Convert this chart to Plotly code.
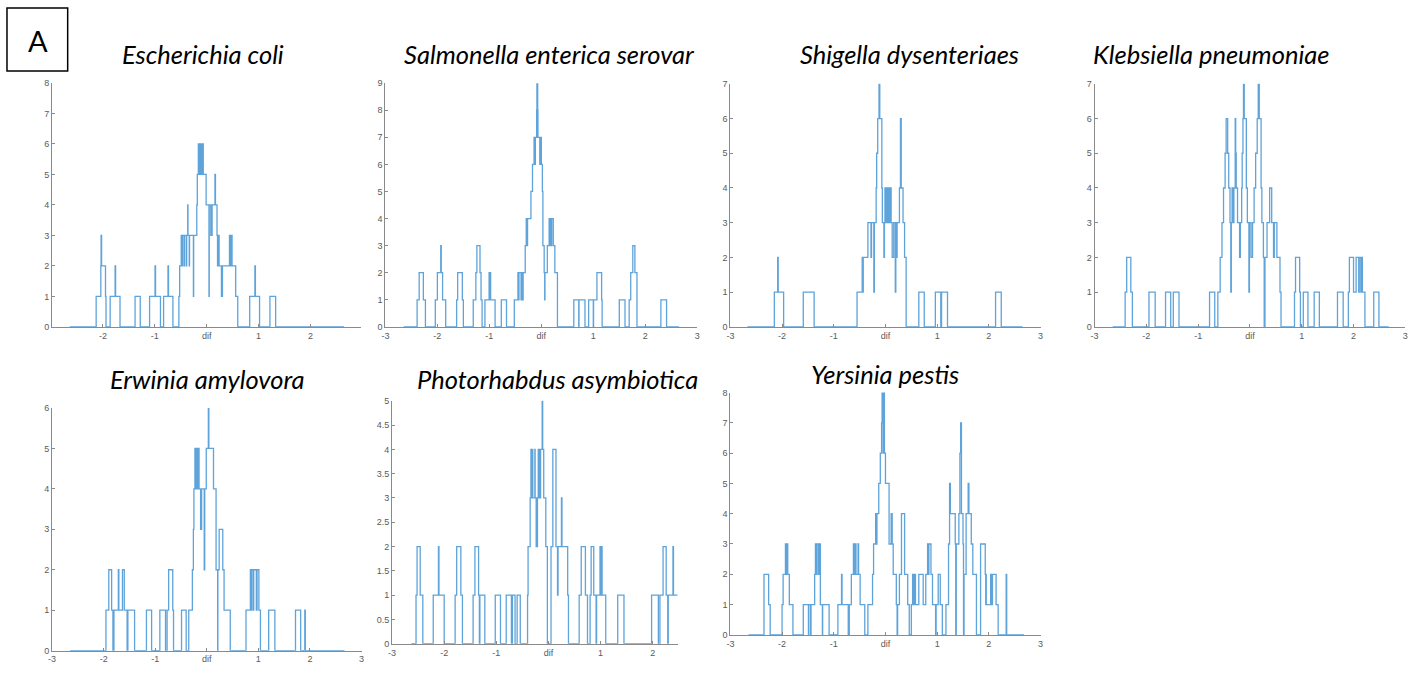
import plotly.graph_objects as go

W, H = 1414, 679

# ---- data: step outlines, (x where the level starts, level) ----
ECOLI = [(-2.64,0),(-2.13,1),(-2.04,2),(-2.035,3),(-2.025,2),(-1.95,1),(-1.94,0),
    (-1.86,1),(-1.765,2),(-1.755,1),(-1.67,0),(-1.38,1),(-1.28,0),
    (-1.10,1),(-0.995,2),(-0.985,1),(-0.89,0),(-0.83,1),(-0.745,2),(-0.735,1),(-0.65,0),
    (-0.535,1),(-0.52,2),(-0.49,3),(-0.465,2),(-0.46,3),(-0.43,2),(-0.425,3),(-0.39,2),(-0.385,3),
    (-0.365,4),(-0.36,3),(-0.335,2),(-0.33,3),(-0.255,1),(-0.25,3),
    (-0.19,4),(-0.18,5),(-0.16,6),(-0.155,5),(-0.14,6),(-0.13,5),(-0.11,6),(-0.10,5),(-0.075,6),(-0.065,5),
    (-0.01,4),(0.045,1),(0.05,4),(0.08,3),(0.105,4),(0.16,5),(0.17,4),(0.20,3),(0.21,2),(0.235,3),(0.24,2),
    (0.285,1),(0.29,2),(0.30,1),(0.305,2),(0.44,3),(0.465,2),(0.475,3),(0.49,2),(0.56,1),(0.60,0),
    (0.83,1),(0.93,2),(0.94,1),(1.02,0),(1.22,1),(1.33,0),(2.65,0)]

SALMONELLA = [(-2.65,0),(-2.39,1),(-2.35,2),(-2.27,1),(-2.23,0),
    (-2.04,1),(-2.0,2),(-1.935,3),(-1.925,2),(-1.9,1),(-1.84,0),
    (-1.63,1),(-1.61,2),(-1.52,1),(-1.5,0),
    (-1.31,1),(-1.26,2),(-1.24,3),(-1.18,2),(-1.16,1),(-1.14,0),
    (-1.085,1),(-1.005,2),(-0.995,1),(-0.985,2),(-0.975,1),(-0.89,0),
    (-0.77,1),(-0.67,0),
    (-0.52,1),(-0.45,2),(-0.44,1),(-0.43,2),(-0.39,1),(-0.375,2),(-0.36,1),(-0.35,2),(-0.31,3),(-0.29,4),
    (-0.27,3),(-0.265,4),(-0.2,5),(-0.17,6),(-0.14,7),(-0.12,6),(-0.115,7),(-0.09,8),(-0.085,9),(-0.07,8),
    (-0.065,7),(-0.03,6),(-0.025,7),(0.0,6),(0.02,5),(0.03,3),(0.055,2),(0.065,1),(0.07,2),(0.115,3),
    (0.15,4),(0.16,3),(0.175,4),(0.19,3),(0.2,4),(0.23,3),(0.26,2),(0.31,0),
    (0.625,1),(0.72,0),(0.725,1),(0.84,0),(0.91,1),(1.0,0),(1.005,1),(1.07,2),(1.16,1),(1.17,0),
    (1.5,1),(1.61,0),(1.69,1),(1.72,2),(1.76,3),(1.8,2),(1.84,0),(2.3,1),(2.41,0),(2.65,0)]

SHIGELLA = [(-2.67,0),(-2.15,1),(-2.085,2),(-2.075,1),(-1.97,0),(-1.59,1),(-1.38,0),
    (-0.55,1),(-0.45,2),(-0.44,1),(-0.43,2),(-0.34,3),(-0.28,2),(-0.27,3),(-0.225,1),(-0.215,3),
    (-0.18,4),(-0.17,5),(-0.15,6),(-0.125,7),(-0.11,6),(-0.07,4),(-0.06,3),(-0.03,2),(-0.02,3),
    (-0.01,4),(0.01,3),(0.02,4),(0.04,3),(0.05,4),(0.07,3),(0.09,4),(0.11,3),(0.13,2),(0.16,3),
    (0.19,1),(0.2,3),(0.22,2),(0.225,3),(0.27,4),(0.29,6),(0.305,4),(0.34,3),(0.37,2),(0.40,0),
    (0.645,1),(0.75,0),(0.965,1),(1.07,0),(1.085,1),(1.2,0),(2.13,1),(2.24,0),(2.65,0)]

KLEBSIELLA = [(-2.65,0),(-2.41,1),(-2.38,2),(-2.3,1),(-2.27,0),(-1.95,1),(-1.83,0),
    (-1.63,1),(-1.53,0),(-1.48,1),(-1.37,0),
    (-0.78,1),(-0.68,0),(-0.62,1),(-0.575,2),(-0.54,3),(-0.51,4),(-0.48,5),(-0.46,6),(-0.43,5),
    (-0.41,4),(-0.385,3),(-0.37,1),(-0.36,3),(-0.345,4),(-0.33,3),(-0.31,4),(-0.285,6),(-0.275,5),
    (-0.265,4),(-0.24,3),(-0.2,2),(-0.185,3),(-0.16,4),(-0.15,5),(-0.135,6),(-0.125,7),(-0.11,6),
    (-0.07,4),(-0.05,3),(-0.02,1),(-0.01,3),(0.02,2),(0.05,3),(0.08,4),(0.11,5),(0.14,6),(0.16,7),
    (0.18,6),(0.215,4),(0.23,3),(0.26,2),(0.275,0),(0.29,2),(0.33,3),(0.38,4),(0.42,3),(0.455,2),
    (0.47,3),(0.52,2),(0.58,1),(0.60,0),
    (0.86,1),(0.88,2),(0.96,1),(0.975,0),(1.03,1),(1.12,0),(1.24,1),(1.34,0),(1.69,1),(1.8,0),
    (1.9,1),(1.92,2),(2.0,1),(2.05,2),(2.1,1),(2.11,2),(2.14,1),(2.15,2),(2.17,1),(2.22,0),
    (2.39,1),(2.49,0),(2.68,0)]

ERWINIA = [(-2.65,0),(-1.955,1),(-1.9,2),(-1.845,1),(-1.82,0),(-1.8,1),(-1.715,2),(-1.705,1),
    (-1.635,2),(-1.6,1),(-1.545,0),(-1.53,1),(-1.4,0),(-1.17,1),(-1.07,0),
    (-0.91,1),(-0.8,0),(-0.77,1),(-0.74,2),(-0.66,1),(-0.645,0),(-0.49,1),(-0.4,0),
    (-0.35,1),(-0.28,2),(-0.26,3),(-0.25,4),(-0.23,5),(-0.215,4),(-0.2,5),(-0.185,4),(-0.17,5),
    (-0.15,4),(-0.12,3),(-0.1,4),(-0.05,2),(-0.04,4),(-0.01,5),(0.03,6),(0.04,5),(0.13,4),
    (0.18,2),(0.21,0),(0.215,2),(0.24,3),(0.31,2),(0.335,1),(0.455,0),
    (0.76,1),(0.845,2),(0.855,1),(0.87,2),(0.9,1),(0.91,2),(0.96,1),(0.975,2),(1.01,1),(1.04,0),
    (1.2,1),(1.32,0),(1.72,1),(1.82,0),(1.9,1),(1.91,0),(2.67,0)]

PHOTORHABDUS = [(-2.63,0),(-2.54,1),(-2.52,2),(-2.46,1),(-2.41,0),(-2.21,1),(-2.11,2),(-2.1,1),(-2.0,0),
    (-1.79,1),(-1.76,2),(-1.68,1),(-1.65,0),(-1.445,1),(-1.41,2),(-1.34,1),(-1.325,0),(-1.315,1),(-1.22,0),
    (-1.02,1),(-0.92,0),(-0.81,1),(-0.71,0),(-0.69,1),(-0.64,0),(-0.6,1),(-0.54,0),
    (-0.4,1),(-0.39,2),(-0.35,3),(-0.335,4),(-0.33,3),(-0.305,4),(-0.3,3),(-0.26,4),(-0.255,3),
    (-0.235,2),(-0.21,3),(-0.195,4),(-0.185,3),(-0.17,4),(-0.16,3),(-0.15,4),(-0.12,5),(-0.11,4),
    (-0.09,3),(-0.05,2),(-0.02,0),(0.05,2),(0.085,4),(0.145,2),(0.175,1),(0.185,2),(0.25,3),(0.26,2),
    (0.37,1),(0.385,0),
    (0.59,1),(0.63,2),(0.71,1),(0.75,0),(0.8,1),(0.82,2),(0.87,1),(0.915,0),(0.925,1),(0.99,2),(1.0,1),
    (1.01,2),(1.03,1),(1.1,0),(1.33,1),(1.45,0),
    (1.98,1),(2.11,0),(2.14,1),(2.2,2),(2.26,1),(2.29,0),(2.3,1),(2.39,2),(2.4,1),(2.48,1)]

YERSINIA = [(-2.65,0),(-2.35,2),(-2.26,1),(-2.23,0),
    (-2.0,1),(-1.98,2),(-1.935,3),(-1.925,2),(-1.915,3),(-1.89,2),(-1.86,1),(-1.79,0),
    (-1.59,1),(-1.49,0),(-1.485,1),(-1.45,0),(-1.44,1),(-1.37,2),(-1.355,3),(-1.34,2),(-1.33,3),
    (-1.3,2),(-1.28,3),(-1.26,1),(-1.22,0),(-1.215,1),(-1.09,0),
    (-0.92,1),(-0.85,2),(-0.84,1),(-0.72,0),(-0.7,1),(-0.66,2),(-0.62,3),(-0.6,2),(-0.59,3),
    (-0.57,2),(-0.53,3),(-0.52,2),(-0.49,1),(-0.4,0),
    (-0.34,1),(-0.25,2),(-0.23,3),(-0.19,4),(-0.17,3),(-0.165,4),(-0.13,5),(-0.1,6),(-0.075,7),
    (-0.065,8),(-0.055,7),(-0.045,6),(-0.035,8),(-0.02,6),(0.0,5),(0.07,3),(0.11,4),(0.13,3),
    (0.15,2),(0.21,1),(0.225,0),(0.235,1),(0.27,2),(0.31,4),(0.37,2),(0.43,1),(0.46,0),(0.5,1),
    (0.525,2),(0.535,1),(0.56,2),(0.58,1),(0.645,2),(0.73,1),(0.78,2),(0.815,3),(0.83,2),(0.84,3),
    (0.88,2),(0.91,1),(0.97,0),(0.98,1),(1.02,2),(1.06,1),(1.1,0),
    (1.17,1),(1.22,3),(1.24,5),(1.255,4),(1.35,3),(1.36,0),(1.37,3),(1.42,4),(1.44,6),(1.455,7),
    (1.47,4),(1.5,3),(1.51,0),(1.52,2),(1.56,4),(1.6,5),(1.615,4),(1.66,3),(1.69,2),(1.76,0),
    (1.84,3),(1.93,2),(1.94,1),(1.945,2),(1.95,1),(2.035,2),(2.045,1),(2.07,2),(2.14,1),(2.18,0),
    (2.335,2),(2.345,0),(2.68,0)]

TITLES = ["Escherichia coli", "Salmonella enterica serovar", "Shigella dysenteriaes",
          "Klebsiella pneumoniae", "Erwinia amylovora", "Photorhabdus asymbiotica", "Yersinia pestis"]
SERIES = [ECOLI, SALMONELLA, SHIGELLA, KLEBSIELLA, ERWINIA, PHOTORHABDUS, YERSINIA]
X_RANGES = [(-2.98, 2.98), (-3, 3), (-3, 3), (-3, 3), (-3, 3), (-3, 2.48), (-3, 3)]
Y_MAX = [8, 9, 7, 7, 6, 5, 8]
Y_STEP = [1, 1, 1, 1, 1, 0.5, 1]
X_TICKS = [[-2, -1, 0, 1, 2], [-3, -2, -1, 0, 1, 2, 3], [-3, -2, -1, 0, 1, 2, 3],
           [-3, -2, -1, 0, 1, 2, 3], [-3, -2, -1, 0, 1, 2, 3], [-3, -2, -1, 0, 1, 2],
           [-3, -2, -1, 0, 1, 2, 3]]

# ---- layout geometry (pixels): left, right, top, bottom of each axes ----
BOXES = [(48.3, 359, 79, 326.7), (383.3, 696.7, 79.3, 326.7), (730, 1041.7, 80, 326.7),
         (1096, 1408.3, 80, 326.7), (48.3, 359.3, 409, 655.3), (390, 677, 401.7, 648.3),
         (730, 1041.7, 393.3, 639.3)]
TITLE_POS = [(200, 50), (548, 50), (910, 50), (1214, 50), (205, 380), (556, 380), (885, 375)]

fig = go.Figure()
axis_col = "#8a8a8a"
tick_font = dict(family="Liberation Sans, Arial, sans-serif", size=9, color="#5a5a5a")

for i, (pts, (l, r, t, b)) in enumerate(zip(SERIES, BOXES), start=1):
    xs = [p[0] for p in pts]
    ys = [p[1] for p in pts]
    fig.add_trace(go.Scatter(x=xs, y=ys, mode="lines", line_shape="hv",
                             line=dict(color="#5ea3da", width=1.3),
                             xaxis=f"x{i}", yaxis=f"y{i}", showlegend=False,
                             hoverinfo="skip"))
    xt = X_TICKS[i - 1]
    step = Y_STEP[i - 1]
    n = int(round(Y_MAX[i - 1] / step))
    yt = [k * step for k in range(n + 1)]
    ytt = [("%g" % v) for v in yt]
    fig.layout[f"xaxis{i}"] = dict(
        domain=[l / W, r / W], anchor=f"y{i}", range=list(X_RANGES[i - 1]),
        showgrid=False, zeroline=False, showline=True, linecolor=axis_col, linewidth=1,
        ticks="inside", ticklen=3, tickcolor=axis_col, tickwidth=1,
        tickvals=xt, ticktext=["dif" if v == 0 else str(v) for v in xt],
        tickfont=tick_font, fixedrange=True)
    fig.layout[f"yaxis{i}"] = dict(
        domain=[1 - b / H, 1 - t / H], anchor=f"x{i}", range=[0, Y_MAX[i - 1]],
        showgrid=False, zeroline=False, showline=True, linecolor=axis_col, linewidth=1,
        ticks="inside", ticklen=3, tickcolor=axis_col, tickwidth=1,
        tickvals=yt, ticktext=ytt, tickfont=tick_font, fixedrange=True)
    cx, cy = TITLE_POS[i - 1]
    fig.add_annotation(x=cx / W, y=1 - cy / H, xref="paper", yref="paper",
                       text=f"<i>{TITLES[i - 1]}</i>", showarrow=False,
                       font=dict(family="Lato, Open Sans, sans-serif", size=25.5, color="#000000"),
                       xanchor="center", yanchor="middle")

# panel label "A"
fig.add_shape(type="rect", xref="paper", yref="paper",
              x0=3 / W, x1=64 / W, y0=1 - 67 / H, y1=1 - 3 / H,
              line=dict(color="#000000", width=1.5), fillcolor="rgba(0,0,0,0)")
fig.add_annotation(x=34 / W, y=1 - 36 / H, xref="paper", yref="paper", text="A",
                   showarrow=False, font=dict(family="Lato, sans-serif", size=29, color="#000"),
                   xanchor="center", yanchor="middle")

fig.update_layout(width=W, height=H, autosize=False,
                  margin=dict(l=0, r=0, t=0, b=0),
                  paper_bgcolor="white", plot_bgcolor="white")

fig.write_html("out.html", config={"displayModeBar": False, "staticPlot": True},
               post_script="document.body.style.margin='0';document.body.style.overflow='hidden';")
